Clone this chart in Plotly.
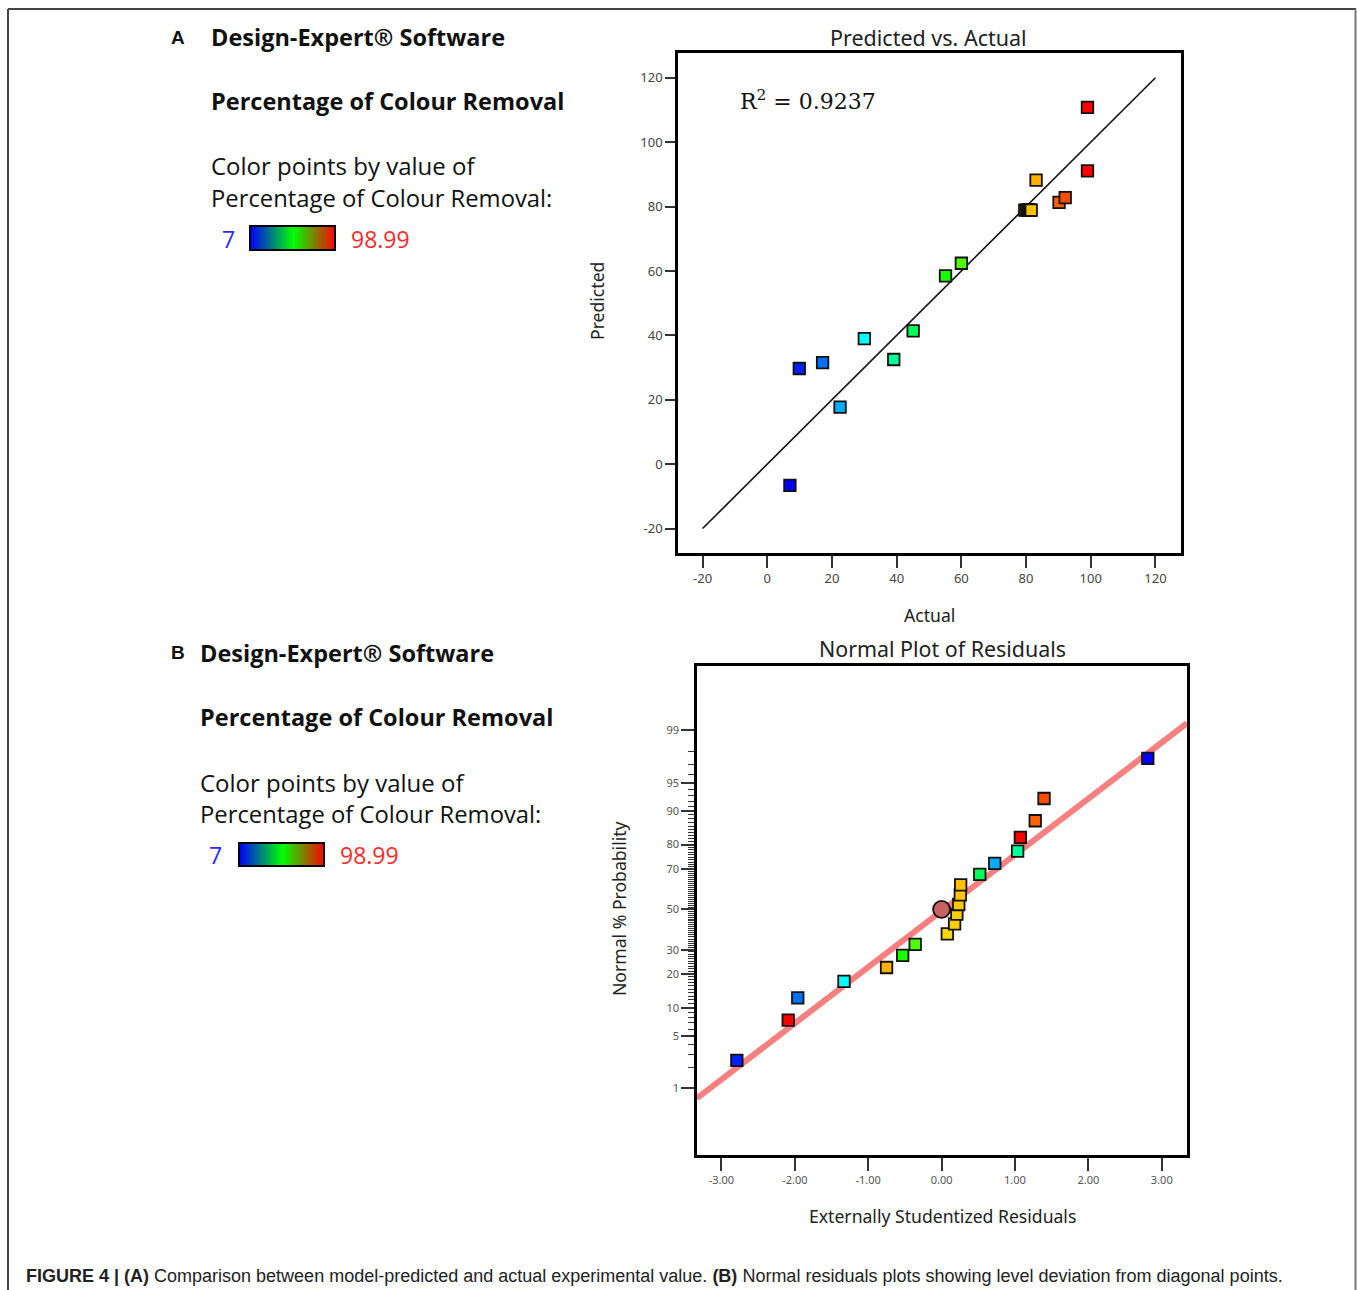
import plotly.graph_objects as go
from statistics import NormalDist

# ---------------- data ----------------
# Panel A: Predicted vs. Actual
actual = [7.0, 9.9, 17.1, 22.5, 30.0, 39.1, 45.1, 55.1, 60.0,
          79.6, 80.2, 80.6, 81.0, 81.3, 81.6, 83.1, 90.2, 92.1, 98.99, 98.99]
predicted = [-6.6, 29.7, 31.5, 17.7, 39.0, 32.5, 41.4, 58.5, 62.4,
             78.9, 78.9, 78.9, 78.9, 78.9, 78.9, 88.2, 81.3, 82.8, 91.1, 110.8]
diag_line = [-20, 120]
r2_text = "R<sup>2</sup> = 0.9237"
a_ticks = [-20, 0, 20, 40, 60, 80, 100, 120]
a_ticktext = ["-20", "0", "20", "40", "60", "80", "100", "120"]

# Panel B: Normal plot of residuals
residuals = [-2.79, -2.09, -1.96, -1.33, -0.75, -0.53, -0.36, 0.078, 0.177, 0.208,
             0.234, 0.255, 0.26, 0.52, 0.724, 1.036, 1.073, 1.276, 1.396, 2.81]
normal_prob = [2.5, 7.5, 12.5, 17.5, 22.5, 27.5, 32.5, 37.5, 42.5, 47.5,
               52.5, 57.5, 62.5, 67.5, 72.5, 77.5, 82.5, 87.5, 92.5, 97.5]
resid_color_value = [9.9, 98.99, 17.1, 30.0, 83.1, 55.1, 60.0, 79.6, 80.2, 80.6,
                     81.0, 81.3, 81.6, 45.1, 22.5, 39.1, 98.99, 90.2, 92.1, 7.0]
fit_resid = [-3.333, 3.344]
fit_prob = [0.71, 99.22]
center_resid = [0.0]
center_prob = [50.0]
b_xticks = [-3, -2, -1, 0, 1, 2, 3]
b_xticktext = ["-3.00", "-2.00", "-1.00", "0.00", "1.00", "2.00", "3.00"]
b_yticks = [1, 5, 10, 20, 30, 50, 70, 80, 90, 95, 99]

cmin, cmax = 7, 98.99
point_scale = [[0, "#0000ff"], [0.25, "#00ffff"], [0.5, "#00ff00"], [0.75, "#ffff00"], [1, "#ff0000"]]
bar_scale = [[0, "#0000ff"], [0.5, "#00ff00"], [1, "#ff0000"]]

nd = NormalDist()
def z(p):
    return nd.inv_cdf(p / 100.0)

W, H = 1357, 1290
def px(x):
    return x / W
def py(y):
    return 1 - y / H

fig = go.Figure()

# Panel A traces
fig.add_trace(go.Scatter(x=diag_line, y=diag_line, mode="lines",
                         line=dict(color="#111111", width=1.6),
                         xaxis="x", yaxis="y", showlegend=False, hoverinfo="skip"))
fig.add_trace(go.Scatter(x=actual, y=predicted, mode="markers",
                         marker=dict(symbol="square", size=11.5, color=actual,
                                     colorscale=point_scale, cmin=cmin, cmax=cmax,
                                     line=dict(color="#111111", width=1.8)),
                         xaxis="x", yaxis="y", showlegend=False))

# Panel B traces
fig.add_trace(go.Scatter(x=fit_resid, y=[z(p) for p in fit_prob], mode="lines",
                         line=dict(color="rgb(246,128,128)", width=6),
                         xaxis="x2", yaxis="y2", showlegend=False, hoverinfo="skip"))
fig.add_trace(go.Scatter(x=residuals, y=[z(p) for p in normal_prob], mode="markers",
                         marker=dict(symbol="square", size=11.5, color=resid_color_value,
                                     colorscale=point_scale, cmin=cmin, cmax=cmax,
                                     line=dict(color="#111111", width=1.8)),
                         xaxis="x2", yaxis="y2", showlegend=False))
fig.add_trace(go.Scatter(x=center_resid, y=[z(p) for p in center_prob], mode="markers",
                         marker=dict(symbol="circle", size=17, color="#c86262",
                                     line=dict(color="#111111", width=1.8)),
                         xaxis="x2", yaxis="y2", showlegend=False))

# colour legend bars
for xa, ya in (("x3", "y3"), ("x4", "y4")):
    fig.add_trace(go.Heatmap(z=[[cmin, (cmin + cmax) / 2, cmax]], x=[0, 1, 2], y=[0],
                             colorscale=bar_scale, zmin=cmin, zmax=cmax, zsmooth="best",
                             showscale=False, xaxis=xa, yaxis=ya, hoverinfo="skip"))

tickfont_a = dict(family="Noto Sans", size=13, color="#444444")
tickfont_b = dict(family="Noto Sans", size=11, color="#555555")
axis_common = dict(showline=True, mirror=True, linecolor="black", linewidth=2.5,
                   ticks="outside", tickcolor="#333333", tickwidth=1.5,
                   showgrid=False, zeroline=False)

major_b = [z(p) for p in b_yticks]
minor_b = [z(p) for p in range(1, 100) if p not in b_yticks]

fig.update_layout(
    width=W, height=H, margin=dict(l=0, r=0, t=0, b=0),
    paper_bgcolor="white", plot_bgcolor="white",
    xaxis=dict(domain=[px(678), px(1181)], range=[-27.6, 127.9], tickvals=a_ticks,
               ticktext=a_ticktext, ticklen=12, tickfont=tickfont_a, anchor="y", **axis_common),
    yaxis=dict(domain=[py(553), py(53)], range=[-27.6, 127.7], tickvals=a_ticks,
               ticktext=a_ticktext, ticklen=10, tickfont=tickfont_a, anchor="x", **axis_common),
    xaxis2=dict(domain=[px(697), px(1187)], range=[-3.333, 3.344], tickvals=b_xticks,
                ticktext=b_xticktext, ticklen=13, tickfont=tickfont_b, anchor="y2", **axis_common),
    yaxis2=dict(domain=[py(1155), py(666)], range=[-3.19, 3.16], tickvals=major_b,
                ticktext=[str(p) for p in b_yticks], ticklen=13, tickfont=tickfont_b, anchor="x2",
                minor=dict(tickvals=minor_b, ticklen=6, tickcolor="#333333", tickwidth=1,
                           ticks="outside"),
                **axis_common),
    xaxis3=dict(domain=[px(250), px(335)], range=[0, 2], visible=False, anchor="y3"),
    yaxis3=dict(domain=[py(250), py(226)], range=[-0.5, 0.5], visible=False, anchor="x3"),
    xaxis4=dict(domain=[px(239), px(324)], range=[0, 2], visible=False, anchor="y4"),
    yaxis4=dict(domain=[py(866), py(843)], range=[-0.5, 0.5], visible=False, anchor="x4"),
)

shapes = []
# outer frame
shapes.append(dict(type="line", xref="paper", yref="paper", x0=px(8), x1=px(8), y0=py(9), y1=py(1290),
                   line=dict(color="#444444", width=2)))
shapes.append(dict(type="line", xref="paper", yref="paper", x0=px(8), x1=px(1356), y0=py(9), y1=py(9),
                   line=dict(color="#444444", width=2)))
shapes.append(dict(type="line", xref="paper", yref="paper", x0=px(1355.5), x1=px(1355.5), y0=py(9), y1=py(1290),
                   line=dict(color="#777777", width=2)))
# legend bar borders
shapes.append(dict(type="rect", xref="paper", yref="paper", x0=px(250), x1=px(335), y0=py(250), y1=py(226),
                   line=dict(color="black", width=2)))
shapes.append(dict(type="rect", xref="paper", yref="paper", x0=px(239), x1=px(324), y0=py(866), y1=py(843),
                   line=dict(color="black", width=2)))
fig.update_layout(shapes=shapes)

ann = []
def text(x, y, s, size, family="Open Sans", color="#111111", xanchor="left", bold=False, angle=0):
    ann.append(dict(x=px(x), y=py(y), xref="paper", yref="paper", text=("<b>%s</b>" % s) if bold else s,
                    showarrow=False, xanchor=xanchor, yanchor="middle", textangle=angle,
                    font=dict(family=family, size=size, color=color)))

# Left texts panel A
text(169, 37, "A", 19, family="Liberation Sans", bold=True)
text(209, 37, "Design-Expert® Software", 23.5, bold=True)
text(209, 101, "Percentage of Colour Removal", 23.5, bold=True)
text(209, 166, "Color points by value of", 24)
text(209, 198, "Percentage of Colour Removal:", 23.8)
text(228, 239, "7", 23, color="#2a2aff", xanchor="center")
text(349, 239, "98.99", 23, color="#ff2a2a")
# Left texts panel B
text(169, 652, "B", 19, family="Liberation Sans", bold=True)
text(198, 653, "Design-Expert® Software", 23.5, bold=True)
text(198, 717, "Percentage of Colour Removal", 23.5, bold=True)
text(198, 782, "Color points by value of", 24)
text(198, 814, "Percentage of Colour Removal:", 23.8)
text(216, 855, "7", 23, color="#2a2aff", xanchor="center")
text(338, 855, "98.99", 23, color="#ff2a2a")

# Panel A titles
text(928, 38, "Predicted vs. Actual", 21.5, family="Noto Sans", xanchor="center", color="#222222")
text(929, 615, "Actual", 17.6, family="Noto Sans", xanchor="center", color="#222222")
text(597, 301, "Predicted", 17.6, family="Noto Sans", xanchor="center", color="#222222", angle=-90)
ann.append(dict(x=-9.0, y=113.0, xref="x", yref="y", text=r2_text, showarrow=False, xanchor="left",
                yanchor="middle", font=dict(family="DejaVu Serif", size=22, color="#111111")))

# Panel B titles
text(942, 648, "Normal Plot of Residuals", 21.4, family="Noto Sans", xanchor="center", color="#222222")
text(942, 1216, "Externally Studentized Residuals", 17.6, family="Noto Sans", xanchor="center", color="#222222")
text(619, 909, "Normal % Probability", 17.6, family="Noto Sans", xanchor="center", color="#222222", angle=-90)

# Caption
ann.append(dict(x=px(24), y=py(1276), xref="paper", yref="paper", showarrow=False, xanchor="left",
                yanchor="middle",
                text="<b>FIGURE 4 | (A)</b> Comparison between model-predicted and actual experimental value. "
                     "<b>(B)</b> Normal residuals plots showing level deviation from diagonal points.",
                font=dict(family="Liberation Sans", size=18, color="#222222")))

fig.update_layout(annotations=ann)
fig.write_html("out.html")
